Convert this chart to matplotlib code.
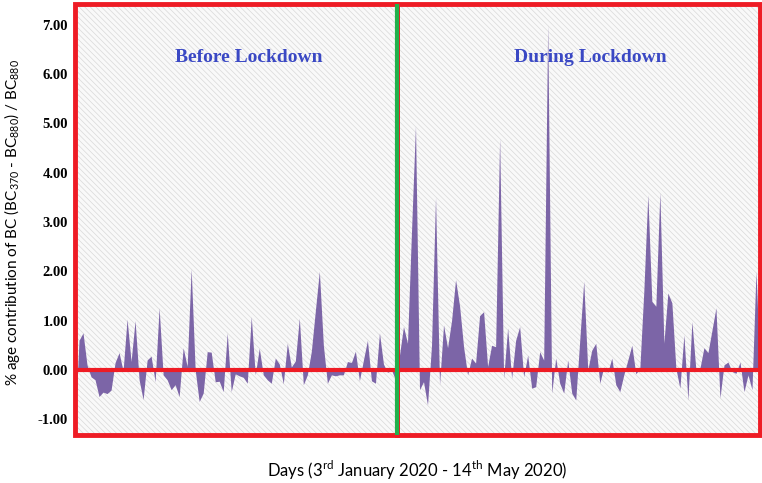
import matplotlib
matplotlib.use("Agg")
from matplotlib import pyplot as plt
from matplotlib.patches import Rectangle
import numpy as np

plt.rcParams['axes.unicode_minus'] = False
plt.rcParams['hatch.linewidth'] = 0.5
plt.rcParams['mathtext.fontset'] = 'custom'
plt.rcParams['mathtext.rm'] = 'Lato'

# daily values (3rd Jan - 14th May 2020)
before = [-1.2, 0.6, 0.75, 0.1, -0.14, -0.2, -0.54, -0.45, -0.48, -0.41,
          0.15, 0.35, -0.02, 1.03, 0.17, 1.0, -0.2, -0.6, 0.2, 0.28,
          -0.24, 1.26, -0.1, -0.2, -0.4, -0.3, -0.54, 0.45, 0.07, 2.05,
          0.0, -0.64, -0.47, 0.37, 0.36, -0.24, -0.23, -0.44, 0.75, -0.44,
          -0.08, -0.12, -0.15, -0.27, 1.08, -0.1, 0.44, -0.1, -0.2, -0.27,
          0.24, 0.12, -0.28, 0.54, 0.06, 0.18, 1.05, -0.3, -0.1, 0.38,
          1.2, 2.0, 0.5, -0.27, -0.1, -0.12, -0.1, -0.1, 0.17, 0.15,
          0.38, -0.22, 0.2, 0.6, -0.22, -0.27, 0.75, 0.12, -0.05, 0.0,
          -0.2]
during = [0.3, 0.88, 0.54, 2.8, 4.95, -0.4, -0.24, -0.71, 0.5, 3.5,
          -0.3, 0.91, 0.45, 1.0, 1.83, 1.3, 0.47, -0.1, 0.24, 0.14,
          1.1, 1.18, 0.07, 0.5, 0.47, 4.7, -0.17, 0.85, -0.17, 0.6,
          0.88, -0.14, 0.3, -0.37, -0.34, 0.37, 0.2, 7.0, -0.47, 0.24,
          -0.27, -0.47, 0.2, -0.47, -0.61, 0.6, 1.8, 0.0, 0.4, 0.54,
          -0.27, 0.06, -0.05, 0.24, -0.3, -0.44, -0.1, 0.2, 0.5, -0.08,
          0.03, 1.6, 3.55, 1.39, 1.29, 3.6, 0.54, 1.56, 1.36, 0.03,
          -0.37, 0.71, -0.61, 0.98, 0.0, 0.03, 0.45, 0.35, 0.8, 1.26,
          -0.57, 0.1, 0.16, -0.03, -0.07, 0.16, -0.44, -0.1, -0.4, 2.0,
          0.0]
values = before + during
days = np.arange(len(values))
lockdown = len(before) - 0.5

yticks = [-1, 0, 1, 2, 3, 4, 5, 6, 7]

# 图片大小
fig = plt.figure(figsize=(7.62, 4.83), dpi=100)
ax = fig.add_axes([75/762, 1-435/483, 685/762, 431/483])

ax.set_xlim(0, len(values) - 1)
ax.set_ylim(-1.32, 7.42)

# hatched background
ax.add_patch(Rectangle((0, 0), 1, 1, transform=ax.transAxes, facecolor='#f9f9f9',
                       edgecolor='#d9d9d9', hatch='\\\\\\\\\\\\', lw=0, zorder=0))

# area
ax.fill_between(days, values, 0, color='#7c65a7', lw=0, zorder=2)

# zero line, lockdown line, boxes
ax.axhline(0, color='#ee1c25', lw=3, zorder=3)
ax.add_patch(Rectangle((0, -1.32), lockdown, 8.74, fill=False, edgecolor='#ee1c25', lw=3.5, zorder=4, clip_on=False))
ax.add_patch(Rectangle((lockdown, -1.32), len(values) - 1 - lockdown, 8.74, fill=False, edgecolor='#ee1c25', lw=3.5, zorder=4, clip_on=False))
ax.axvline(lockdown, color='#22b14c', lw=3, zorder=5)

ax.text(lockdown / 2 + 3, 6.33, "Before Lockdown", family='Liberation Serif', weight='bold',
        fontsize=14, color='#3a48c4', ha='center', va='center')
ax.text(lockdown + (len(values) - 1 - lockdown) / 2 + 3, 6.33, "During Lockdown", family='Liberation Serif',
        weight='bold', fontsize=14, color='#3a48c4', ha='center', va='center')

for s in ax.spines.values():
    s.set_visible(False)

ax.set_xticks([])
ax.set_yticks(yticks)
ax.set_yticklabels(["%.2f" % v for v in yticks], family='Liberation Serif', weight='bold', fontsize=10.5)
ax.tick_params(axis='y', length=0, pad=5)

# 坐标轴描述
fig.text(12/762, 1-222/483, "% age contribution of BC (BC$_{370}$ - BC$_{880}$) / BC$_{880}$",
         family='Lato', fontsize=11, rotation=90, ha='center', va='center')
fig.text(417/762, 1-470/483, "Days (3$^{\\mathrm{rd}}$ January 2020 - 14$^{\\mathrm{th}}$ May 2020)",
         family='Lato', fontsize=12, ha='center', va='center')

plt.savefig("out.png", dpi=100)
